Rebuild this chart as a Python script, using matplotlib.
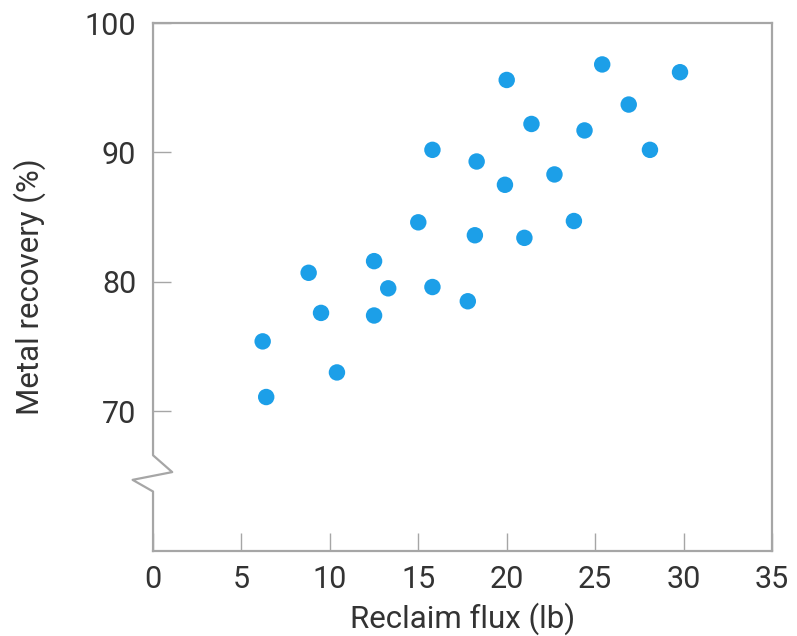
import matplotlib
matplotlib.use("Agg")
import matplotlib.pyplot as plt
import matplotlib.transforms as mtransforms

# reclaim flux (lb) vs metal recovery (%)
flux = [6.2, 6.4, 8.8, 9.5, 10.4, 12.5, 12.5, 13.3, 15.0, 15.8, 15.8, 17.8, 18.3,
        18.2, 19.9, 20.0, 21.0, 21.4, 22.7, 23.8, 24.4, 25.4, 26.9, 28.1, 29.8]
recovery = [75.4, 71.1, 80.7, 77.6, 73.0, 81.6, 77.4, 79.5, 84.6, 90.2, 79.6, 78.5, 89.3,
            83.6, 87.5, 95.6, 83.4, 92.2, 88.3, 84.7, 91.7, 96.8, 93.7, 90.2, 96.2]
xticks = [0, 5, 10, 15, 20, 25, 30, 35]
yticks = [70, 80, 90, 100]

plt.rcParams['font.family'] = ['Roboto', 'DejaVu Sans']
grey = '#a6a6a6'
txt = '#333333'

fig = plt.figure(figsize=(7.97, 6.36), dpi=100)
ax = fig.add_axes([0.192, 0.1336, 0.7766, 0.8302])

ax.scatter(flux, recovery, s=140, color='#1c9fe8', edgecolors='none', zorder=3)

ax.set_xlim(0, 35)
ax.set_ylim(59.2, 100)
ax.set_xticks(xticks)
ax.set_yticks(yticks)
ax.tick_params(direction='in', length=13, width=1, color=grey,
               labelsize=22, labelcolor=txt)
ax.tick_params(axis='y', pad=12)
ax.tick_params(axis='x', pad=10)

for side in ['top', 'right', 'bottom']:
    ax.spines[side].set_color(grey)
    ax.spines[side].set_linewidth(1.6)
ax.spines['left'].set_visible(False)

# left spine with the axis break zigzag
trans = mtransforms.blended_transform_factory(ax.transAxes, ax.transData)
bx = [0, 0, 0.031, -0.033, 0, 0]
by = [100, 66.6, 65.3, 64.7, 63.8, 59.2]
ax.plot(bx, by, color=grey, lw=1.6, transform=trans, clip_on=False, zorder=4)

ax.set_xlabel('Reclaim flux (lb)', fontsize=22.5, color=txt, labelpad=6)
ax.set_ylabel('Metal recovery (%)', fontsize=22.5, color=txt, labelpad=28)

fig.savefig('out.png', dpi=100)
